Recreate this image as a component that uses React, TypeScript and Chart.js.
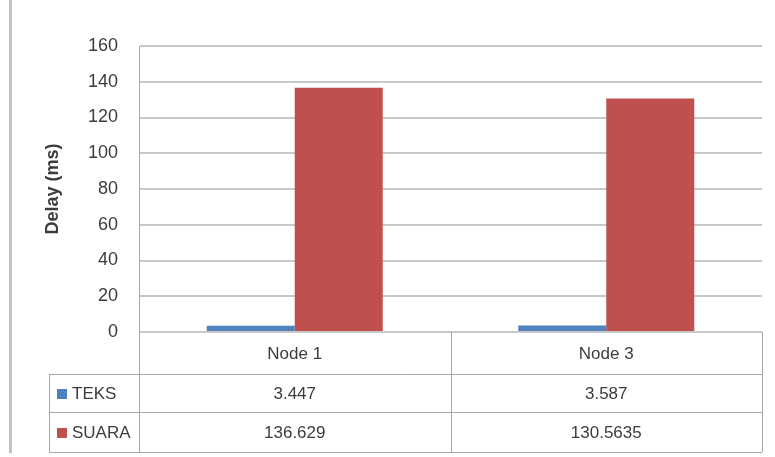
import React, { useEffect, useRef } from "react";
import { Chart, registerables } from "chart.js";

Chart.register(...registerables);

// Chart data
const categories = ["Node 1", "Node 3"];
const seriesNames = ["TEKS", "SUARA"];
const teksValues = [3.447, 3.587];
const suaraValues = [136.629, 130.5635];
const seriesColors = ["#4F81BD", "#C0504D"];
const yMin = 0;
const yMax = 160;
const yStep = 20;

const FONT = "'Liberation Sans', Arial, sans-serif";
const TEXT_COLOR = "#3c3c3c";
const LINE_COLOR = "#a8a8a8";

// Excel-style data table under the plot: category header row, then one row per series
const dataTablePlugin = {
  id: "dataTable",
  beforeDraw(chart: any) {
    const { ctx } = chart;
    ctx.save();
    ctx.fillStyle = "#c2c2c2";
    ctx.fillRect(9, 0, 3, 453);
    ctx.restore();
  },
  afterDraw(chart: any) {
    const { ctx, chartArea } = chart;
    const { left, right, bottom } = chartArea;
    const rowHeights = [42, 38, 40];
    const legendColLeft = left - 90;
    const catWidth = (right - left) / categories.length;
    const rowTops = [bottom];
    rowHeights.forEach((h, i) => rowTops.push(rowTops[i] + h));
    const tableBottom = rowTops[rowTops.length - 1];

    const line = (x1: number, y1: number, x2: number, y2: number) => {
      ctx.beginPath();
      ctx.moveTo(x1, y1);
      ctx.lineTo(x2, y2);
      ctx.stroke();
    };

    ctx.save();
    ctx.strokeStyle = LINE_COLOR;
    ctx.lineWidth = 1;
    // horizontal rules below the header row
    for (let r = 1; r < rowTops.length; r++) {
      line(legendColLeft, rowTops[r] + 0.5, right, rowTops[r] + 0.5);
    }
    // vertical rules
    line(legendColLeft + 0.5, rowTops[1], legendColLeft + 0.5, tableBottom);
    for (let c = 0; c <= categories.length; c++) {
      const x = Math.round(left + c * catWidth) + 0.5;
      line(x, bottom, x, tableBottom);
    }

    ctx.fillStyle = TEXT_COLOR;
    ctx.font = `17px ${FONT}`;
    ctx.textBaseline = "middle";
    ctx.textAlign = "center";
    const xScale = chart.scales.x;
    categories.forEach((cat, i) => {
      const cx = xScale.getPixelForValue(i);
      ctx.fillText(cat, cx, (rowTops[0] + rowTops[1]) / 2 + 1);
    });

    chart.data.datasets.forEach((ds: any, s: number) => {
      const cy = (rowTops[s + 1] + rowTops[s + 2]) / 2 + 1;
      // legend key + series name
      ctx.fillStyle = ds.backgroundColor;
      ctx.fillRect(legendColLeft + 8, cy - 5, 10, 10);
      ctx.fillStyle = TEXT_COLOR;
      ctx.textAlign = "left";
      ctx.fillText(ds.label, legendColLeft + 23, cy);
      ctx.textAlign = "center";
      ds.data.forEach((v: number, i: number) => {
        ctx.fillText(String(v), xScale.getPixelForValue(i), cy);
      });
    });
    ctx.restore();
  },
};

export default function App() {
  const canvasRef = useRef<HTMLCanvasElement | null>(null);

  useEffect(() => {
    if (!canvasRef.current) return;
    const chart = new Chart(canvasRef.current, {
      type: "bar",
      data: {
        labels: categories,
        datasets: [
          {
            label: seriesNames[0],
            data: teksValues,
            backgroundColor: seriesColors[0],
            categoryPercentage: 0.565,
            barPercentage: 1,
          },
          {
            label: seriesNames[1],
            data: suaraValues,
            backgroundColor: seriesColors[1],
            categoryPercentage: 0.565,
            barPercentage: 1,
          },
        ],
      },
      options: {
        responsive: false,
        animation: false,
        devicePixelRatio: 1,
        layout: { padding: { top: 46, right: 13, bottom: 125, left: 0 } },
        plugins: {
          legend: { display: false },
          tooltip: { enabled: false },
        },
        scales: {
          x: { display: false },
          y: {
            min: yMin,
            max: yMax,
            ticks: {
              stepSize: yStep,
              padding: 21,
              color: TEXT_COLOR,
              font: { family: FONT, size: 18 },
            },
            grid: { color: "#c8c8c8", lineWidth: 2, drawTicks: false },
            border: { color: LINE_COLOR, width: 1 },
            title: {
              display: true,
              text: "Delay (ms)",
              color: TEXT_COLOR,
              font: { family: FONT, size: 18, weight: "bold" },
              padding: { top: 42, bottom: 0 },
            },
            afterFit(scale: any) {
              scale.width = 139;
            },
          },
        },
      },
      plugins: [dataTablePlugin],
    });
    return () => chart.destroy();
  }, []);

  return (
    <div style={{ position: "fixed", left: 0, top: 0, width: 775, height: 457, background: "#fff" }}>
      <canvas ref={canvasRef} width={775} height={457} />
    </div>
  );
}
